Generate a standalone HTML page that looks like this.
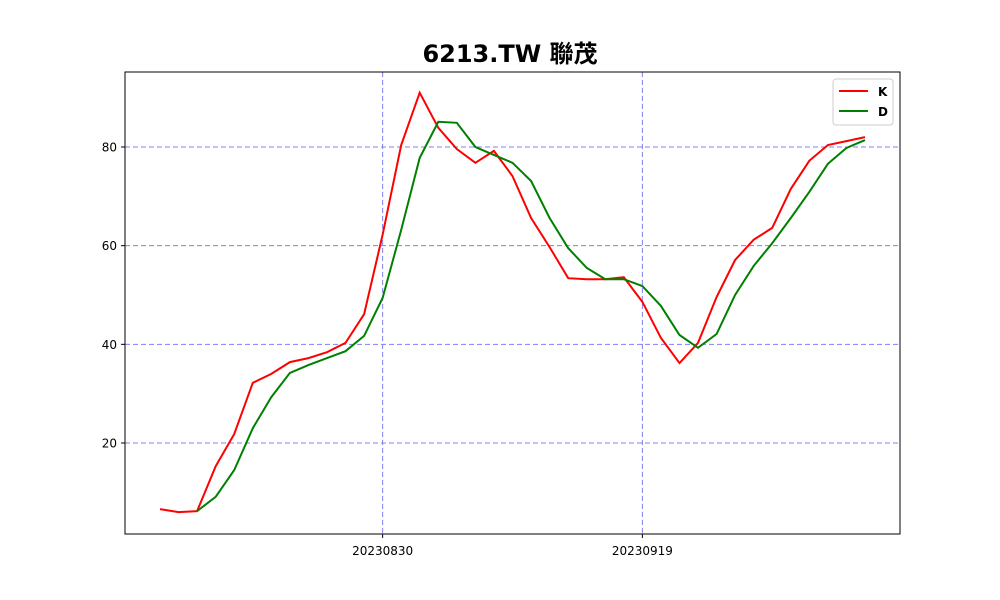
<!DOCTYPE html>
<html><head><meta charset="utf-8"><style>
body{margin:0;background:#fff}
svg{display:block;font-family:"DejaVu Sans","Liberation Sans","Noto Sans CJK TC",sans-serif}
</style></head><body>
<svg id="chart" width="1000" height="600">
<text x="510" y="62" text-anchor="middle" font-size="24" font-weight="bold" font-family="'DejaVu Sans','Noto Sans CJK TC',sans-serif">6213.TW 聯茂</text>
<g id="grid"></g><g id="series"></g>
<rect x="125" y="72" width="775" height="462" fill="none" stroke="#000" stroke-width="1"/>
<g id="axes"></g>
<g>
<rect x="833" y="79" width="60" height="46" rx="3" fill="#fff" stroke="#ccc"/>
<line x1="839" y1="91" x2="868" y2="91" stroke="red" stroke-width="2"/>
<text x="878" y="96" font-size="12" font-weight="bold">K</text>
<line x1="839" y1="111" x2="868" y2="111" stroke="green" stroke-width="2"/>
<text x="878" y="116" font-size="12" font-weight="bold">D</text>
</g>
</svg>
<script>
const kValues=[6.6,6.0,6.2,15.3,21.8,32.2,34,36.4,37.2,38.4,40.3,46.1,62.2,80.4,91,83.9,79.6,76.8,79.2,74.1,65.6,59.7,53.4,53.2,53.2,53.6,48.6,41.3,36.2,40.3,49.6,57.1,61.2,63.6,71.5,77.2,80.4,81.2,82];
const dValues=[null,null,6.2,9.1,14.5,23,29.3,34.2,35.8,37.2,38.6,41.7,49.4,63.2,77.8,85.1,84.9,80,78.4,76.8,73.1,65.6,59.5,55.5,53.2,53.2,51.8,47.8,41.9,39.3,42.1,50,55.9,60.5,65.6,70.9,76.6,79.8,81.4];
const yTicks=[20,40,60,80];
const xTickIdx=[12,26];
const xTickLabels=["20230830","20230919"];
const NS="http://www.w3.org/2000/svg";
const xs=i=>160+i*(705/(kValues.length-1));
const ys=v=>443-(v-20)*(296/60);
function mk(t,a,p){const e=document.createElementNS(NS,t);for(const k in a)e.setAttribute(k,a[k]);p.appendChild(e);return e;}
const grid=document.getElementById('grid'),axes=document.getElementById('axes'),ser=document.getElementById('series');
yTicks.forEach(v=>{
 const g=mk('line',{x1:125,x2:900,y1:ys(v),y2:ys(v),stroke:'#8080f0','stroke-dasharray':'5,3','stroke-width':1},grid);
 
 
 const t=mk('line',{x1:121,x2:125,y1:ys(v),y2:ys(v),stroke:'#000'},axes);
 
 
 const l=mk('text',{x:117,y:ys(v)+4.5,'text-anchor':'end','font-size':12},axes);l.textContent=v;
 
 
});
xTickIdx.forEach((i,j)=>{
 const g=mk('line',{x1:xs(i),x2:xs(i),y1:72,y2:534,stroke:'#8080f0','stroke-dasharray':'5,3'},grid);
 
 
 const t=mk('line',{x1:xs(i),x2:xs(i),y1:534,y2:538,stroke:'#000'},axes);
 
 
 const l=mk('text',{x:xs(i),y:555,'text-anchor':'middle','font-size':12},axes);l.textContent=xTickLabels[j];
 
 
});
function path(vals){let d='';vals.forEach((v,i)=>{if(v==null)return;d+=(d?'L':'M')+xs(i).toFixed(1)+','+ys(v).toFixed(1);});return d;}
const kp=mk('path',{d:path(kValues),fill:'none',stroke:'red','stroke-width':2},ser);


const dp=mk('path',{d:path(dValues),fill:'none',stroke:'green','stroke-width':2},ser);


</script>
</body></html>
